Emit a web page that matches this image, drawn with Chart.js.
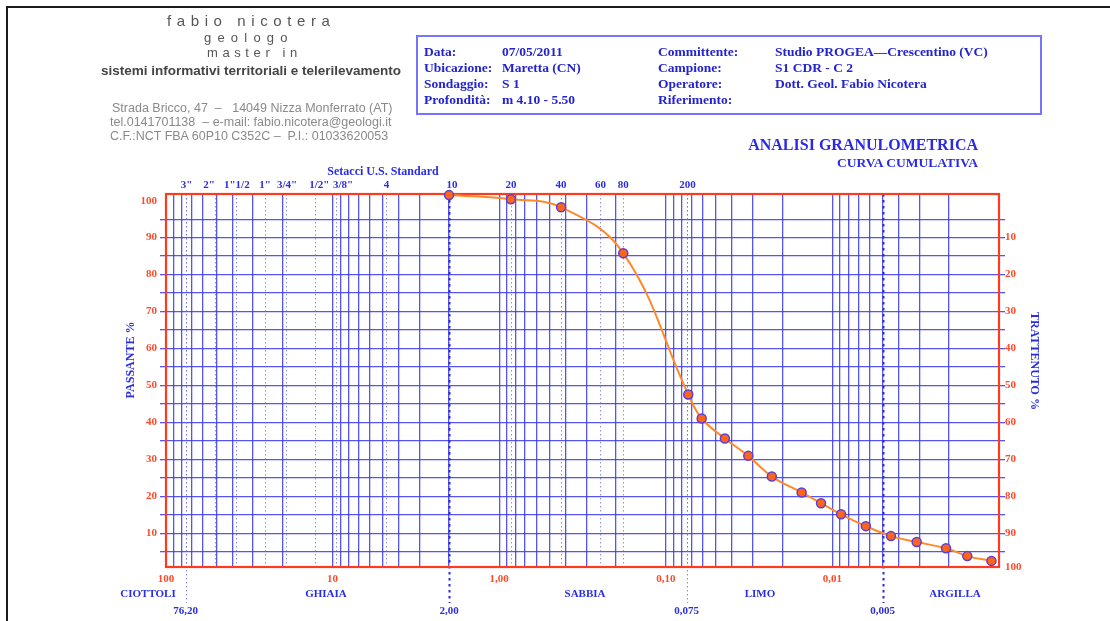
<!DOCTYPE html>
<html lang="it">
<head>
<meta charset="utf-8">
<title>Analisi granulometrica - curva cumulativa</title>
<script src="https://cdn.jsdelivr.net/npm/chart.js@4.4.1/dist/chart.umd.min.js"></script>
<style>
  html, body { margin: 0; padding: 0; background: #fff; }
  #foglio { position: relative; width: 1110px; height: 621px; overflow: hidden; background: #fff; }
  #grafico { position: absolute; left: 0; top: 0; }
  .cornice { position: absolute; left: 6px; top: 6px; width: 1200px; height: 700px;
             border-top: 2px solid #1c1c1c; border-left: 2px solid #1c1c1c; }
  .t { position: absolute; white-space: nowrap; }
  .sans { font-family: "Liberation Sans", Arial, sans-serif; }
  .serif { font-family: "Liberation Serif", "Times New Roman", serif; font-weight: bold; }
  .nome { color: #565656; }
  .indirizzo { color: #8a8a8a; font-size: 12.5px; line-height: 12.5px; }
  .riquadro { position: absolute; left: 416px; top: 35px; width: 622px; height: 76px;
              border: 2px solid #7474ff; }
  .info { color: #2323d0; font-size: 13.5px; line-height: 13.5px; }
  .titolo { color: #2a2ae6; text-align: right; }
</style>
</head>
<body>
<div id="foglio">
  <canvas id="grafico" width="1110" height="621"></canvas>
  <div class="cornice"></div>

  <!-- intestazione dello studio -->
  <div class="t sans nome" style="left:167px; top:13px; font-size:15px; line-height:15px; letter-spacing:5.6px;">fabio nicotera</div>
  <div class="t sans nome" style="left:204px; top:30.5px; font-size:13px; line-height:13px; letter-spacing:6.2px;">geologo</div>
  <div class="t sans nome" style="left:207px; top:45.5px; font-size:13px; line-height:13px; letter-spacing:4.6px;">master in</div>
  <div class="t sans" style="left:101px; top:64px; font-size:13.5px; line-height:13.5px; font-weight:bold; color:#444;">sistemi informativi territoriali e telerilevamento</div>
  <div class="t sans indirizzo" style="left:112px; top:101.5px;">Strada Bricco, 47 &nbsp;&ndash;&nbsp;&nbsp; 14049 Nizza Monferrato (AT)</div>
  <div class="t sans indirizzo" style="left:110px; top:116px;">tel.0141701138 &nbsp;&ndash; e-mail: fabio.nicotera@geologi.it</div>
  <div class="t sans indirizzo" style="left:110px; top:130px;">C.F.:NCT FBA 60P10 C352C &ndash;&nbsp; P.I.: 01033620053</div>

  <!-- dati del campione -->
  <div class="riquadro"></div>
  <div class="t serif info" style="left:424px; top:45px;">Data:</div>
  <div class="t serif info" style="left:502px; top:45px;">07/05/2011</div>
  <div class="t serif info" style="left:424px; top:61px;">Ubicazione:</div>
  <div class="t serif info" style="left:502px; top:61px;">Maretta (CN)</div>
  <div class="t serif info" style="left:424px; top:77px;">Sondaggio:</div>
  <div class="t serif info" style="left:502px; top:77px;">S 1</div>
  <div class="t serif info" style="left:424px; top:93px;">Profondità:</div>
  <div class="t serif info" style="left:502px; top:93px;">m 4.10 - 5.50</div>
  <div class="t serif info" style="left:658px; top:45px;">Committente:</div>
  <div class="t serif info" style="left:775px; top:45px;">Studio PROGEA&mdash;Crescentino (VC)</div>
  <div class="t serif info" style="left:658px; top:61px;">Campione:</div>
  <div class="t serif info" style="left:775px; top:61px;">S1 CDR - C 2</div>
  <div class="t serif info" style="left:658px; top:77px;">Operatore:</div>
  <div class="t serif info" style="left:775px; top:77px;">Dott. Geol. Fabio Nicotera</div>
  <div class="t serif info" style="left:658px; top:93px;">Riferimento:</div>

  <div class="t serif titolo" style="right:132px; top:137px; font-size:16px; line-height:16px;">ANALISI GRANULOMETRICA</div>
  <div class="t serif titolo" style="right:132px; top:156px; font-size:13.5px; line-height:13.5px;">CURVA CUMULATIVA</div>
</div>

<script>
// Curva cumulativa: diametro dei grani (mm) e percentuale passante
const diametri = [2.00, 0.85, 0.425, 0.18, 0.0733, 0.0609, 0.0442, 0.0320, 0.0231,
                  0.0153, 0.0117, 0.00887, 0.00630, 0.00445, 0.00312, 0.00208, 0.00155, 0.00111];
const passante = [101.5, 100.4, 98.2, 85.8, 47.6, 41.1, 35.7, 31.0, 25.4,
                  21.1, 18.2, 15.2, 12.0, 9.3, 7.7, 6.0, 3.9, 2.6];

// Setacci U.S. Standard: apertura (mm) e designazione
const setacciAperture = [76.2, 50.8, 38.1, 25.4, 19.05, 12.7, 9.525, 4.75, 2.00, 0.85, 0.425, 0.25, 0.18, 0.075];
const setacciNomi = ['3"', '2"', '1"1/2', '1"', '3/4"', '1/2"', '3/8"', '4', '10', '20', '40', '60', '80', '200'];

// Diametri di riferimento sull'asse inferiore
const diametriPrincipali = [100, 10, 1, 0.1, 0.01];
const etichetteDiametri = ['100', '10', '1,00', '0,10', '0,01'];

// Limiti fra le classi granulometriche
const limitiClassi = [76.2, 2.00, 0.075, 0.005];
const etichetteLimiti = ['76,20', '2,00', '0,075', '0,005'];
const classi = ['CIOTTOLI', 'GHIAIA', 'SABBIA', 'LIMO', 'ARGILLA'];

// Tacche percentuali
const tacchePassante = [5, 10, 15, 20, 25, 30, 35, 40, 45, 50, 55, 60, 65, 70, 75, 80, 85, 90, 95, 100];

const SERIF = '"Liberation Serif", "Times New Roman", serif';
const BLU = '#2a2ee0';
const ROSSO = '#ff4a2a';
const GRIGLIA = 'rgba(56,56,236,0.85)';
const D_MIN = 0.001, D_MAX = 100;
const Y_MIN = 0.95, Y_MAX = 101.8;

// impaginazione: centri delle scritte delle classi e spostamenti delle sigle dei setacci
const xClassi = [148, 326, 585, 760, 955];
const spostaSigle = [1, -6, 1, 0, 1, 4, 7, 0, 3, 0, 0, 1, 0, 1];
const limitiMarcati = new Set([2.00, 0.005]);

function grigliaLog() {
  const v = [];
  for (let k = -3; k <= 2; k++) {
    for (let m = 1; m <= 9; m++) {
      const d = m * Math.pow(10, k);
      if (d >= D_MIN * 0.999 && d <= D_MAX * 1.001) v.push(d);
    }
  }
  return v;
}

function etichettaDiametro(v) {
  const i = diametriPrincipali.findIndex(d => Math.abs(Math.log10(d) - Math.log10(v)) < 1e-6);
  return i >= 0 ? etichetteDiametri[i] : '';
}

const decorazioni = {
  id: 'decorazioni',
  beforeDatasetsDraw(chart) {
    const { ctx, chartArea: a } = chart;
    const x = chart.scales.x;
    ctx.save();
    // linee punteggiate dei setacci
    ctx.strokeStyle = 'rgba(110,110,230,0.75)';
    ctx.lineWidth = 1;
    ctx.setLineDash([1.5, 2.5]);
    setacciAperture.forEach(d => {
      const px = Math.round(x.getPixelForValue(d)) + 0.5;
      ctx.beginPath(); ctx.moveTo(px, a.top); ctx.lineTo(px, a.bottom); ctx.stroke();
    });
    // limiti di classe, prolungati sotto il grafico
    limitiClassi.forEach(d => {
      const px = Math.round(x.getPixelForValue(d)) + 0.5;
      if (limitiMarcati.has(d)) {
        ctx.strokeStyle = '#2a2ad8'; ctx.lineWidth = 2; ctx.setLineDash([2.5, 3.5]);
      } else {
        ctx.strokeStyle = 'rgba(110,110,230,0.8)'; ctx.lineWidth = 1; ctx.setLineDash([1.5, 2.5]);
      }
      ctx.beginPath(); ctx.moveTo(px, a.top); ctx.lineTo(px, 603); ctx.stroke();
    });
    // cornice rossa dell'area del grafico
    ctx.setLineDash([]);
    ctx.strokeStyle = '#ff3b1f';
    ctx.lineWidth = 2.2;
    ctx.strokeRect(a.left, a.top, a.right - a.left, a.bottom - a.top);
    ctx.restore();
  },
  afterDraw(chart) {
    const { ctx } = chart;
    const x = chart.scales.x;
    ctx.save();
    ctx.fillStyle = BLU;
    ctx.textAlign = 'center';
    ctx.textBaseline = 'middle';
    ctx.font = 'bold 12px ' + SERIF;
    ctx.fillText('Setacci U.S. Standard', 383, 172);
    ctx.font = 'bold 11px ' + SERIF;
    // sigle dei setacci sopra il grafico
    setacciAperture.forEach((d, i) => ctx.fillText(setacciNomi[i], x.getPixelForValue(d) + spostaSigle[i], 185));
    classi.forEach((c, i) => ctx.fillText(c, xClassi[i], 594));
    limitiClassi.forEach((d, i) => ctx.fillText(etichetteLimiti[i], x.getPixelForValue(d), 611));
    ctx.font = 'bold 12px ' + SERIF;
    ctx.translate(131, 360);
    ctx.rotate(-Math.PI / 2);
    ctx.fillText('PASSANTE %', 0, 0);
    ctx.setTransform(1, 0, 0, 1, 0, 0);
    ctx.translate(1034, 361);
    ctx.rotate(Math.PI / 2);
    ctx.fillText('TRATTENUTO %', 0, 0);
    ctx.restore();
  }
};

const fontTacche = { family: SERIF, size: 11, weight: 'bold' };

new Chart(document.getElementById('grafico'), {
  type: 'line',
  data: {
    datasets: [{
      data: diametri.map((d, i) => ({ x: d, y: passante[i] })),
      xAxisID: 'x',
      yAxisID: 'y',
      borderColor: '#ff8a2a',
      borderWidth: 2,
      tension: 0.4,
      pointRadius: 4.5,
      pointBackgroundColor: '#ff6418',
      pointBorderColor: '#5b3fd8',
      pointBorderWidth: 1.5,
      clip: false
    }]
  },
  options: {
    responsive: false,
    animation: false,
    devicePixelRatio: 1,
    layout: { padding: { top: 194, left: 0, right: 0, bottom: 0 } },
    elements: { line: { capBezierPoints: true } },
    plugins: { legend: { display: false }, tooltip: { enabled: false } },
    scales: {
      x: {
        type: 'logarithmic', position: 'bottom', reverse: true, min: D_MIN, max: D_MAX,
        afterFit: s => { s.height = 54; },
        afterBuildTicks: s => { s.ticks = grigliaLog().map(v => ({ value: v })); },
        grid: { color: GRIGLIA, lineWidth: 1.3, drawTicks: false },
        border: { display: false },
        ticks: { autoSkip: false, maxRotation: 0, minRotation: 0, padding: 6,
                 color: ROSSO, font: fontTacche, callback: v => etichettaDiametro(v) }
      },
      y: {
        type: 'linear', position: 'left', min: Y_MIN, max: Y_MAX,
        afterFit: s => { s.width = 166; },
        afterBuildTicks: s => { s.ticks = tacchePassante.map(v => ({ value: v })); },
        grid: { color: c => (c.tick && c.tick.value === 100) ? 'rgba(0,0,0,0)' : GRIGLIA,
                lineWidth: 1.3, tickLength: 6 },
        border: { display: false },
        ticks: { autoSkip: false, padding: 3, color: ROSSO, font: fontTacche,
                 callback: v => (v % 10 === 0 ? String(v) : '') }
      },
      y2: {
        type: 'linear', position: 'right', min: Y_MIN, max: Y_MAX,
        afterFit: s => { s.width = 111; },
        afterBuildTicks: s => { s.ticks = [Y_MIN].concat(tacchePassante.filter(v => v < 100)).map(v => ({ value: v })); },
        grid: { drawOnChartArea: false, lineWidth: 1.3, tickLength: 6,
                color: c => (c.tick && c.tick.value === Y_MIN) ? 'rgba(0,0,0,0)' : GRIGLIA },
        border: { display: false },
        ticks: { autoSkip: false, padding: 0, color: ROSSO, font: fontTacche,
                 callback: v => (v === Y_MIN ? '100' : (v % 10 === 0 ? String(100 - v) : '')) }
      }
    }
  },
  plugins: [decorazioni]
});
</script>
</body>
</html>
